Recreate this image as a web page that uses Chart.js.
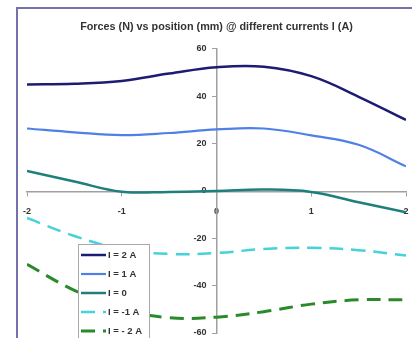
<!DOCTYPE html>
<html>
<head>
<meta charset="utf-8">
<script src="https://cdn.jsdelivr.net/npm/chart.js@4"></script>
<style>
html,body{margin:0;padding:0;background:#fff;}
#wrap{width:412px;height:338px;position:relative;}
</style>
</head>
<body>
<div id="wrap"><canvas id="c" width="412" height="338"></canvas></div>
<script>
// ---- data ----
const positions = [-2, -1.5, -1, -0.5, 0, 0.5, 1, 1.5, 2];
const seriesLabels = ["I = 2 A", "I = 1 A", "I = 0", "I = -1 A", "I = - 2 A"];
const force2A  = [45, 45.3, 46.5, 49.6, 52.3, 52.5, 48.5, 39.8, 30];
const force1A  = [26.4, 24.8, 23.6, 24.5, 26, 26.4, 23.5, 19.5, 10.4];
const force0A  = [8.5, 4, -0.3, -0.4, 0, 0.6, -0.4, -4.8, -9];
const forceM1A = [-11.4, -19, -24.5, -26.6, -26.2, -24.5, -24, -25, -27.3];
const forceM2A = [-31, -42, -50, -53.5, -53.3, -51, -47.8, -46, -46];
const yTicks = [60, 40, 20, 0, -20, -40, -60];
const xTicks = [-2, -1, 0, 1, 2];
const chartTitle = "Forces (N) vs position (mm) @ different currents I (A)";

const seriesValues = [force2A, force1A, force0A, forceM1A, forceM2A];
const styles = [
  {color:"#1c1c72", width:2.5, dash:[]},
  {color:"#4f80e6", width:2.2, dash:[]},
  {color:"#1e7f7b", width:2.5, dash:[]},
  {color:"#45d2d8", width:2.5, dash:[14,8]},
  {color:"#2a8a2a", width:3, dash:[14,8]}
];

const datasets = seriesValues.map((vals, i) => ({
  label: seriesLabels[i],
  data: positions.map((x, j) => ({x: x, y: vals[j]})),
  borderColor: styles[i].color,
  backgroundColor: styles[i].color,
  borderWidth: styles[i].width,
  borderDash: styles[i].dash,
  pointRadius: 0,
  tension: 0.4,
  fill: false
}));

const FONT = "'Liberation Sans', Arial, sans-serif";

const framePlugin = {
  id: 'frame',
  beforeDraw(chart) {
    const ctx = chart.ctx;
    ctx.save();
    ctx.fillStyle = '#ffffff';
    ctx.fillRect(0, 0, chart.width, chart.height);
    ctx.strokeStyle = '#7572aa';
    ctx.lineWidth = 2;
    ctx.strokeRect(17, 8, 600, 600);
    ctx.restore();
  }
};

const boxLegend = {
  id: 'boxLegend',
  afterDatasetsDraw(chart) {
    const ctx = chart.ctx;
    const left = 78, top = 244, w = 71, h = 110;
    ctx.save();
    ctx.fillStyle = '#ffffff';
    ctx.fillRect(left, top, w, h);
    ctx.strokeStyle = '#a8a8a8';
    ctx.lineWidth = 1;
    ctx.strokeRect(left + 0.5, top + 0.5, w, h);
    chart.data.datasets.forEach((ds, i) => {
      const y = top + 11 + i * 19;
      ctx.beginPath();
      ctx.strokeStyle = ds.borderColor;
      ctx.lineWidth = ds.borderWidth;
      ctx.setLineDash(ds.borderDash || []);
      ctx.moveTo(81, y);
      ctx.lineTo(106, y);
      ctx.stroke();
      ctx.setLineDash([]);
      ctx.fillStyle = '#333';
      ctx.font = "bold 9.5px " + FONT;
      ctx.textBaseline = 'middle';
      ctx.textAlign = 'left';
      ctx.fillText(ds.label, 108, y + 0.5);
    });
    ctx.restore();
  }
};

function zeroPad(s) { s.paddingLeft = 0; s.paddingRight = 0; s.paddingTop = 0; s.paddingBottom = 0; }

new Chart(document.getElementById('c'), {
  type: 'line',
  data: { datasets: datasets },
  options: {
    responsive: false,
    animation: false,
    layout: { padding: { left: 27, right: 6, top: 0, bottom: 5 } },
    plugins: {
      legend: { display: false },
      tooltip: { enabled: false },
      title: {
        display: true,
        text: chartTitle,
        color: '#333',
        font: { family: FONT, size: 10.8, weight: 'bold', lineHeight: 1.2 },
        padding: { top: 21, bottom: 15 }
      }
    },
    scales: {
      x: {
        type: 'linear',
        position: 'center',
        min: -2, max: 2,
        afterFit(s) { s.height = 0; zeroPad(s); },
        afterBuildTicks(s) { s.ticks = xTicks.map(v => ({value: v})); },
        grid: { drawOnChartArea: false, drawTicks: true, tickLength: 4, color: '#a0a0a0' },
        border: { display: true, color: '#a0a0a0', width: 1.5 },
        ticks: { color: '#333', font: { family: FONT, size: 9, weight: 'bold' }, padding: 11, maxRotation: 0, autoSkip: false }
      },
      y: {
        type: 'linear',
        position: 'center',
        min: -60, max: 60,
        afterFit(s) { s.width = 0; zeroPad(s); },
        afterBuildTicks(s) { s.ticks = yTicks.map(v => ({value: v})); },
        grid: { drawOnChartArea: false, drawTicks: true, tickLength: 4, color: '#a0a0a0' },
        border: { display: true, color: '#a0a0a0', width: 1.5 },
        ticks: { color: '#333', font: { family: FONT, size: 9, weight: 'bold' }, padding: 6, autoSkip: false }
      }
    }
  },
  plugins: [framePlugin, boxLegend]
});
</script>
</body>
</html>
